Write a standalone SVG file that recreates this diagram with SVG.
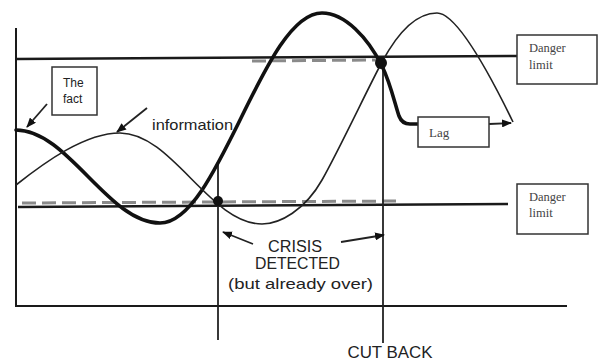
<svg xmlns="http://www.w3.org/2000/svg" width="599" height="363" viewBox="0 0 599 363">
<style>
.ax{stroke:#1a1a1a;stroke-width:2;fill:none}
.lim{stroke:#1a1a1a;stroke-width:2.6;fill:none}
.dash{stroke:#8a8a8a;stroke-width:3;stroke-dasharray:14 6;fill:none}
.fact{stroke:#111;stroke-width:3.6;fill:none;stroke-linejoin:round;stroke-linecap:round}
.info{stroke:#222;stroke-width:1.6;fill:none}
.vl{stroke:#222;stroke-width:1.8}
.box{fill:#fff;stroke:#333;stroke-width:1.5}
.ptr{stroke:#222;stroke-width:1.8;fill:none;marker-end:url(#ah)}
.hand{font-family:"Liberation Sans",Arial,sans-serif;fill:#222}
.typ{font-family:"Liberation Serif","Times New Roman",serif;fill:#444}
</style>
<defs>
<marker id="ah" viewBox="0 0 10 8" refX="9" refY="4" markerWidth="10" markerHeight="8" markerUnits="userSpaceOnUse" orient="auto"><path d="M0,0 L10,4 L0,8 z" fill="#111"/></marker>
</defs>
<g id="axes">
<path class="ax" d="M16,28 V306 H567"/>
</g>
<g id="danger-lines">
<line class="lim" x1="16" y1="59" x2="517" y2="56"/>
<line class="lim" x1="18" y1="207" x2="508" y2="204"/>
<path class="dash" d="M252,61 L380,60"/>
<path class="dash" d="M22,203 L400,201"/>
</g>
<g id="markers">
<line class="vl" x1="218" y1="163" x2="218" y2="340"/>
<line class="vl" x1="383" y1="62" x2="383" y2="343"/>
</g>
<g id="curves">
<path id="fact-curve" class="fact" d="M16,130 C68,130 108,223 160,223 C219,223 263,13 322,13 C345,13 368,38 382,66 C390,82 395,104 399,116 Q402,124 410,124 L418,124"/>
<path id="information-curve" class="info" d="M16,185 C45,162 85,133 120,133 C172,133 210,224 262,224 C280,224 305,210 322,180 C340,148 368,88 382,62 C396,36 415,13 437,13 C458,13 495,85 513,122"/>
<circle cx="218" cy="201" r="5" fill="#111"/>
<circle cx="381" cy="63" r="6" fill="#111"/>
</g>
<g id="connectors">
<path class="ptr" d="M47,104 L27,127"/>
<path class="ptr" d="M147,108 L117,132"/>
<path class="ptr" d="M489,124 L511,123"/>
<path class="ptr" d="M253,244 L223,232"/>
<path class="ptr" d="M341,242 L384,235"/>
</g>
<g id="the-fact">
<rect class="box" x="52" y="67" width="45" height="48"/>
<text class="hand" x="63" y="87" font-size="12">The</text>
<text class="hand" x="63" y="103" font-size="12">fact</text>
</g>
<g id="information">
<text class="hand" x="152" y="130" font-size="15" textLength="81" lengthAdjust="spacingAndGlyphs">information</text>
</g>
<g id="lag">
<rect class="box" x="418" y="117" width="71" height="30"/>
<text class="typ" x="429" y="137" font-size="13">Lag</text>
</g>
<g id="danger-upper">
<rect class="box" x="517" y="35" width="80" height="49"/>
<text class="typ" x="529" y="52" font-size="12.5">Danger</text>
<text class="typ" x="529" y="69" font-size="12.5">limit</text>
</g>
<g id="danger-lower">
<rect class="box" x="517" y="184" width="71" height="50"/>
<text class="typ" x="529" y="201" font-size="12.5">Danger</text>
<text class="typ" x="529" y="217" font-size="12.5">limit</text>
</g>
<g id="crisis">
<text class="hand" x="295" y="252" font-size="16" text-anchor="middle" textLength="54" lengthAdjust="spacingAndGlyphs">CRISIS</text>
<text class="hand" x="297.5" y="269" font-size="16" text-anchor="middle" textLength="85" lengthAdjust="spacingAndGlyphs">DETECTED</text>
<text class="hand" x="300.5" y="289" font-size="15" text-anchor="middle" textLength="145" lengthAdjust="spacingAndGlyphs">(but already over)</text>
</g>
<g id="cut-back">
<text class="hand" x="390" y="358" font-size="16" text-anchor="middle" textLength="85" lengthAdjust="spacingAndGlyphs">CUT BACK</text>
</g>
</svg>
